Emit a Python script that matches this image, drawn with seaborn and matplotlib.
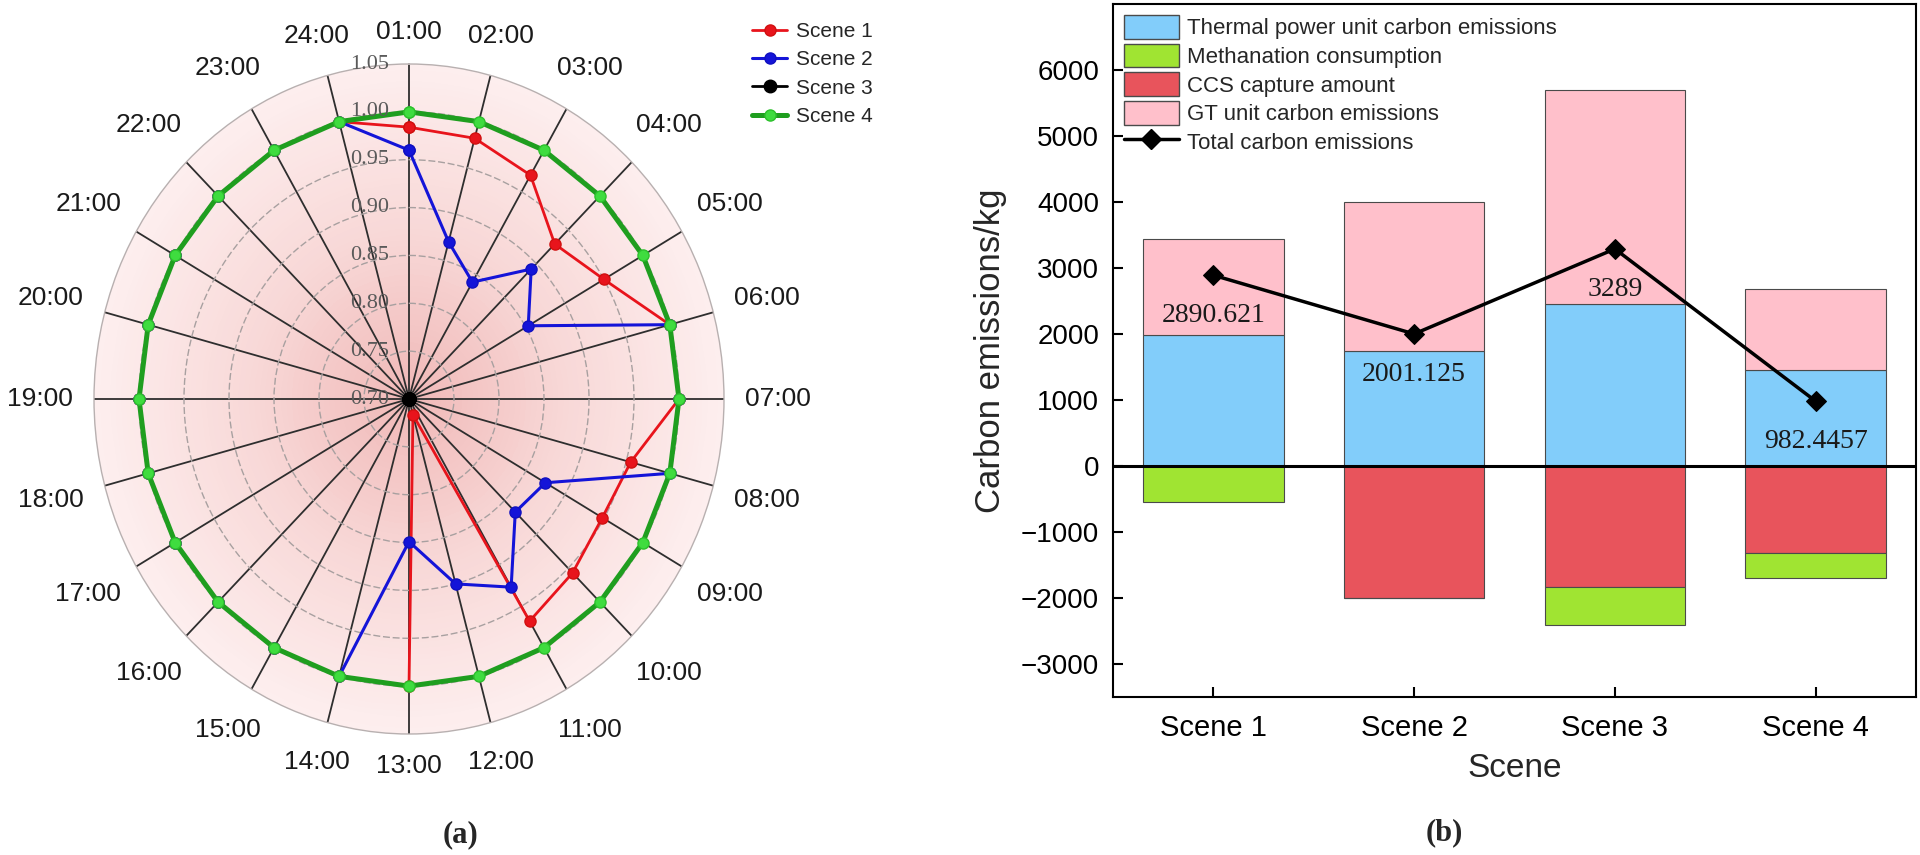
import numpy as np
import matplotlib
matplotlib.use('Agg')
import matplotlib.pyplot as plt
import matplotlib.transforms as mtransforms
from matplotlib.colors import LinearSegmentedColormap
from matplotlib.patches import Patch
from matplotlib.lines import Line2D
from matplotlib.legend_handler import HandlerLine2D
import seaborn as sns

# ---- data (a): hourly values of the four scenes
hours = ['01:00', '02:00', '03:00', '04:00', '05:00', '06:00', '07:00', '08:00',
         '09:00', '10:00', '11:00', '12:00', '13:00', '14:00', '15:00', '16:00',
         '17:00', '18:00', '19:00', '20:00', '21:00', '22:00', '23:00', '24:00']
scene1 = [0.984, 0.982, 0.970, 0.929, 0.950, 1.00, 1.00, 0.955, 0.948, 0.957, 0.968, 0.717,
          1.00, 1.00, 1.00, 1.00, 1.00, 1.00, 1.00, 1.00, 1.00, 1.00, 1.00, 1.00]
scene2 = [0.960, 0.870, 0.841, 0.892, 0.853, 1.00, 1.00, 1.00, 0.875, 0.867, 0.927, 0.900,
          0.849, 1.00, 1.00, 1.00, 1.00, 1.00, 1.00, 1.00, 1.00, 1.00, 1.00, 1.00]
scene3 = [0.70] * 24
scene4 = [1.00] * 24
r_ticks = [0.70, 0.75, 0.80, 0.85, 0.90, 0.95, 1.00, 1.05]
r_labels = ['0.70', '0.75', '0.80', '0.85', '0.90', '0.95', '1.00', '1.05']

# ---- data (b): carbon emissions per scene
scenes = ['Scene 1', 'Scene 2', 'Scene 3', 'Scene 4']
thermal = [1990, 1750, 2455, 1455]
gt_unit = [1451, 2251, 3245, 1225]
ccs = [0, -2000, -1830, -1318]
methanation = [-550, 0, -581, -380]
total = [2890.621, 2001.125, 3289, 982.4457]
total_txt = ['2890.621', '2001.125', '3289', '982.4457']

sns.set_style('ticks')
plt.rcParams['font.family'] = ['Liberation Sans', 'DejaVu Sans']

fig = plt.figure(figsize=(19.2, 8.55), dpi=100)

# ================= (a) radar =================
ax = fig.add_axes([94 / 1920, 121 / 855, 630 / 1920, 670 / 855], projection='polar')
ax.set_aspect('auto')
ax.set_theta_zero_location('N')
ax.set_theta_direction(-1)
ax.set_ylim(0.70, 1.05)

theta = np.deg2rad(np.arange(24) * 15)

# pink radial background
tg = np.linspace(0, 2 * np.pi, 145)
rg = np.linspace(0.70, 1.05, 60)
T, R = np.meshgrid(tg, rg)
bg_cmap = LinearSegmentedColormap.from_list('bg', ['#f0b9b8', '#f8d8d7', '#fdeeee'])
ax.pcolormesh(T, R, R[:-1, :-1], cmap=bg_cmap, shading='flat', zorder=0.1, rasterized=True)

ax.set_xticks(theta)
ax.set_xticklabels([])
ax.set_yticks(r_ticks[1:-1])
ax.set_yticklabels([])
ax.set_axisbelow('line')
ax.xaxis.grid(True, color='#2e2e2e', lw=1.3, ls='-')
ax.yaxis.grid(True, color='#a8a0a0', lw=1.0, ls=(0, (5, 2)))
ax.spines['polar'].set_color('#b8b0b0')
ax.spines['polar'].set_linewidth(1.0)
ax.tick_params(length=0)

tc = np.append(theta, theta[0])
def closed(v):
    return np.append(v, v[0])

ax.plot(tc, closed(scene1), color='#e8141c', lw=2.0, marker='o', ms=8, mec='#d01010', zorder=4, label='Scene 1')
ax.plot(tc, closed(scene2), color='#1414d8', lw=2.2, marker='o', ms=8, mec='#1010c0', zorder=4, label='Scene 2')
ax.plot(tc, closed(scene3), color='black', lw=2.0, marker='o', ms=9, zorder=4, label='Scene 3')
ax.plot(tc, closed(scene4), color='#1f9e1f', lw=3.6, marker='o', ms=8, mfc='#3fdc3f', mec='#2cc02c', zorder=5, label='Scene 4')

# hour labels around the circle
for a, h in zip(theta, hours):
    d = 20 + 34 * abs(np.sin(a)) + 12 * abs(np.cos(a))
    tr = mtransforms.offset_copy(ax.transData, fig=fig, x=d * np.sin(a), y=d * np.cos(a), units='dots')
    ax.text(a, 1.05, h, transform=tr, ha='center', va='center', fontsize=19, color='#1a1a1a')

# radial value labels
tr_r = mtransforms.offset_copy(ax.transData, fig=fig, x=-20, y=0, units='dots')
for v, lab in zip(r_ticks, r_labels):
    ax.text(0, v, lab, transform=tr_r, ha='right', va='center', fontsize=16,
            family=['Liberation Serif', 'DejaVu Serif'], color='#5a5a5a', zorder=6)


class EndMarker(HandlerLine2D):
    def get_xdata(self, legend, xdescent, ydescent, width, height, fontsize):
        xdata = np.array([-xdescent, -xdescent + width])
        return xdata, np.array([-xdescent + width * 0.92])


h_a, l_a = ax.get_legend_handles_labels()
fig.legend(h_a, l_a, loc='upper left', bbox_to_anchor=(752 / 1920, 1 - 22 / 855),
           frameon=False, fontsize=15, handlelength=1.7, handletextpad=0.4,
           labelspacing=0.45, borderpad=0, borderaxespad=0,
           handler_map={Line2D: EndMarker()})

fig.text(460 / 1920, 1 - 835 / 855, '(a)', ha='center', va='center', fontsize=22,
         fontweight='bold', family=['Liberation Serif', 'DejaVu Serif'])

# ================= (b) stacked bars =================
axb = fig.add_axes([1113 / 1920, 158 / 855, 803 / 1920, 693 / 855])
c_thermal, c_meth, c_ccs, c_gt = '#82cdfa', '#a0e432', '#e8545c', '#ffc0cb'
edge = '#4a4a4a'
xpos = np.arange(len(scenes))

sns.barplot(x=scenes, y=thermal, color=c_thermal, width=0.7, saturation=1,
            edgecolor=edge, linewidth=0.8, errorbar=None, ax=axb, zorder=2)
axb.bar(xpos, gt_unit, bottom=thermal, width=0.7, color=c_gt, edgecolor=edge, linewidth=0.8, zorder=2)
sns.barplot(x=scenes, y=ccs, color=c_ccs, width=0.7, saturation=1,
            edgecolor=edge, linewidth=0.8, errorbar=None, ax=axb, zorder=2)
axb.bar(xpos, methanation, bottom=ccs, width=0.7, color=c_meth, edgecolor=edge, linewidth=0.8, zorder=2)

axb.axhline(0, color='black', lw=2.2, zorder=3)
sns.lineplot(x=xpos, y=total, color='black', lw=2.5, marker='D', markersize=10,
             markeredgecolor='black', errorbar=None, ax=axb, zorder=5)

for i, (v, t) in enumerate(zip(total, total_txt)):
    axb.annotate(t, (i, v), xytext=(0, -29), textcoords='offset points', ha='center', va='center',
                 fontsize=20, family=['Liberation Serif', 'DejaVu Serif'], color='#1a1a1a', zorder=6)

axb.set_xlim(-0.5, 3.5)
axb.set_ylim(-3500, 7000)
axb.set_yticks([-3000, -2000, -1000, 0, 1000, 2000, 3000, 4000, 5000, 6000])
axb.set_xticks(xpos)
axb.set_xticklabels(scenes)
axb.set_xlabel('Scene', fontsize=24, labelpad=8)
axb.set_ylabel('Carbon emissions/kg', fontsize=25, labelpad=10)
axb.tick_params(direction='in', length=7, width=1.5, labelsize=20, colors='black')
axb.tick_params(axis='x', pad=12, labelsize=21)
axb.tick_params(axis='y', pad=10)
for s in axb.spines.values():
    s.set_visible(True)
    s.set_linewidth(1.5)
    s.set_color('black')

leg_handles = [Patch(facecolor=c_thermal, edgecolor=edge, lw=1),
               Patch(facecolor=c_meth, edgecolor=edge, lw=1),
               Patch(facecolor=c_ccs, edgecolor=edge, lw=1),
               Patch(facecolor=c_gt, edgecolor=edge, lw=1),
               Line2D([], [], color='black', lw=2.5, marker='D', markersize=10)]
leg_labels = ['Thermal power unit carbon emissions', 'Methanation consumption',
              'CCS capture amount', 'GT unit carbon emissions', 'Total carbon emissions']
axb.legend(leg_handles, leg_labels, loc='upper left', frameon=False, fontsize=16,
           handlelength=2.45, handleheight=1.25, labelspacing=0.2, handletextpad=0.4,
           borderaxespad=0.3, borderpad=0.2)

fig.text(1444 / 1920, 1 - 833 / 855, '(b)', ha='center', va='center', fontsize=22,
         fontweight='bold', family=['Liberation Serif', 'DejaVu Serif'])

fig.savefig('out.png', dpi=100)
